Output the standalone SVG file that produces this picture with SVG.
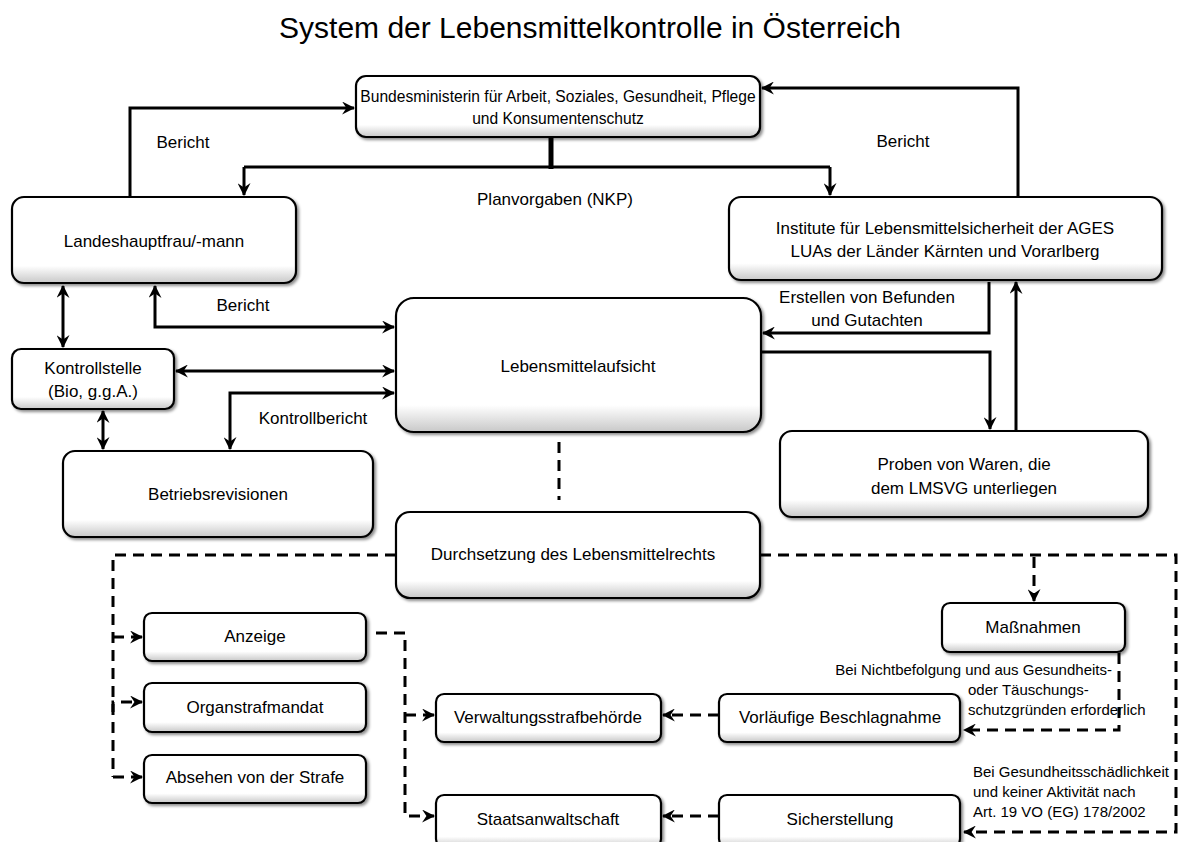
<svg xmlns="http://www.w3.org/2000/svg" width="1180" height="842" viewBox="0 0 1180 842">
<defs>
<linearGradient id="g" x1="0" y1="0" x2="0" y2="1">
<stop offset="0" stop-color="#ffffff"/>
<stop offset="0.8" stop-color="#ffffff"/>
<stop offset="1" stop-color="#c8c8c8"/>
</linearGradient>
<filter id="sh" x="-5%" y="-10%" width="115%" height="130%">
<feDropShadow dx="2" dy="2" stdDeviation="1.5" flood-color="#000" flood-opacity="0.45"/>
</filter>
<marker id="a" viewBox="0 0 12 12" refX="11" refY="6" markerWidth="13" markerHeight="13" markerUnits="userSpaceOnUse" orient="auto-start-reverse">
<path d="M0,0 L12,6 L0,12 L4,6 z" fill="#000"/>
</marker>
</defs>
<style>
.box{fill:url(#g);stroke:#000;stroke-width:2.2;filter:url(#sh)}
text{font-family:"Liberation Sans",Arial,sans-serif;font-size:17px;fill:#000}
.c{text-anchor:middle}
.s{font-size:15px}
.ln{fill:none;stroke:#000;stroke-width:3}
.d{fill:none;stroke:#000;stroke-width:3;stroke-dasharray:11,7}
</style>
<rect width="1180" height="842" fill="#fff"/>
<text x="590" y="38" class="c" style="font-size:30px">System der Lebensmittelkontrolle in Österreich</text>

<g id="connectors">
<path class="ln" d="M130,197 V108 H354" marker-end="url(#a)"/>
<path class="ln" d="M1018,197 V88 H762" marker-end="url(#a)"/>
<path fill="none" stroke="#000" stroke-width="5" d="M551,138 V169"/>
<path class="ln" d="M244,167 H830"/>
<path class="ln" d="M244,167 V195" marker-end="url(#a)"/>
<path class="ln" d="M830,167 V195" marker-end="url(#a)"/>
<path class="ln" d="M63,286 V347" marker-start="url(#a)" marker-end="url(#a)"/>
<path class="ln" d="M394,327 H155 V286" marker-start="url(#a)" marker-end="url(#a)"/>
<path class="ln" d="M176,371 H394" marker-start="url(#a)" marker-end="url(#a)"/>
<path class="ln" d="M394,393 H230 V449" marker-start="url(#a)" marker-end="url(#a)"/>
<path class="ln" d="M103,411 V449" marker-start="url(#a)" marker-end="url(#a)"/>
<path class="ln" d="M989,282 V333 H763" marker-end="url(#a)"/>
<path class="ln" d="M762,352 H990 V429" marker-end="url(#a)"/>
<path class="ln" d="M1016,430 V282" marker-end="url(#a)"/>
<path class="d" d="M559,442 V500"/>
<path class="d" d="M396,555 H113 V777"/>
<path class="d" d="M113,637 H142" stroke-dasharray="none" marker-end="url(#a)"/>
<path class="d" d="M113,712 V702 H142" stroke-dasharray="none" marker-end="url(#a)"/>
<path class="d" d="M113,777 H142" stroke-dasharray="none" marker-end="url(#a)"/>
<path class="d" d="M760,555 H1176 V832 H964" marker-end="url(#a)"/>
<path class="d" d="M1034,557 V601" marker-end="url(#a)"/>
<path class="d" d="M1119,653 V730 H964" marker-end="url(#a)"/>
<path class="d" d="M719,715 H663" marker-end="url(#a)"/>
<path class="d" d="M719,816 H663" marker-end="url(#a)"/>
<path class="d" d="M376,633 H405 V816 H434" marker-end="url(#a)"/>
<path class="d" d="M405,715 H434" stroke-dasharray="none" marker-end="url(#a)"/>
</g>

<g id="labels">
<text x="183" y="148" class="c">Bericht</text>
<text x="903" y="147" class="c">Bericht</text>
<text x="555" y="205" class="c">Planvorgaben (NKP)</text>
<text x="243" y="311" class="c">Bericht</text>
<text x="313" y="424" class="c">Kontrollbericht</text>
<text x="867" y="303" class="c">Erstellen von Befunden</text>
<text x="867" y="326" class="c">und Gutachten</text>
<text x="1112" y="675" class="s" text-anchor="end">Bei Nichtbefolgung und aus Gesundheits-</text>
<text x="968" y="695" class="s">oder Täuschungs-</text>
<text x="968" y="715" class="s">schutzgründen erforderlich</text>
<text x="973" y="777" class="s">Bei Gesundheitsschädlichkeit</text>
<text x="973" y="797" class="s">und keiner Aktivität nach</text>
<text x="973" y="817" class="s">Art. 19 VO (EG) 178/2002</text>
</g>

<g id="n-bm"><rect class="box" x="356" y="76" width="404" height="61" rx="10"/>
<text x="558" y="102" class="c" style="font-size:15.6px">Bundesministerin für Arbeit, Soziales, Gesundheit, Pflege</text>
<text x="558" y="124" class="c" style="font-size:15.6px">und Konsumentenschutz</text></g>
<g id="n-lh"><rect class="box" x="12" y="197" width="284" height="86" rx="12"/>
<text x="154" y="247" class="c">Landeshauptfrau/-mann</text></g>
<g id="n-inst"><rect class="box" x="729" y="197" width="433" height="83" rx="12"/>
<text x="945" y="234" class="c">Institute für Lebensmittelsicherheit der AGES</text>
<text x="945" y="257" class="c">LUAs der Länder Kärnten und Vorarlberg</text></g>
<g id="n-lma"><rect class="box" x="396" y="298" width="365" height="134" rx="18"/>
<text x="578" y="372" class="c">Lebensmittelaufsicht</text></g>
<g id="n-ks"><rect class="box" x="12" y="349" width="162" height="60" rx="9"/>
<text x="93" y="374" class="c">Kontrollstelle</text>
<text x="93" y="397" class="c">(Bio, g.g.A.)</text></g>
<g id="n-br"><rect class="box" x="63" y="451" width="310" height="86" rx="12"/>
<text x="218" y="500" class="c">Betriebsrevisionen</text></g>
<g id="n-pr"><rect class="box" x="780" y="431" width="368" height="86" rx="12"/>
<text x="964" y="470" class="c">Proben von Waren, die</text>
<text x="964" y="494" class="c">dem LMSVG unterliegen</text></g>
<g id="n-ds"><rect class="box" x="396" y="512" width="364" height="86" rx="14"/>
<text x="573" y="560" class="c">Durchsetzung des Lebensmittelrechts</text></g>
<g id="n-an"><rect class="box" x="144" y="613" width="222" height="48" rx="8"/>
<text x="255" y="642" class="c">Anzeige</text></g>
<g id="n-os"><rect class="box" x="144" y="683" width="222" height="49" rx="8"/>
<text x="255" y="713" class="c">Organstrafmandat</text></g>
<g id="n-ab"><rect class="box" x="144" y="755" width="222" height="48" rx="8"/>
<text x="255" y="783" class="c">Absehen von der Strafe</text></g>
<g id="n-mn"><rect class="box" x="942" y="603" width="183" height="49" rx="8"/>
<text x="1033" y="633" class="c">Maßnahmen</text></g>
<g id="n-vs"><rect class="box" x="436" y="694" width="225" height="48" rx="8"/>
<text x="548" y="723" class="c">Verwaltungsstrafbehörde</text></g>
<g id="n-vb"><rect class="box" x="719" y="694" width="241" height="48" rx="8"/>
<text x="840" y="723" class="c">Vorläufige Beschlagnahme</text></g>
<g id="n-sa"><rect class="box" x="436" y="795" width="225" height="52" rx="8"/>
<text x="548" y="825" class="c">Staatsanwaltschaft</text></g>
<g id="n-si"><rect class="box" x="719" y="795" width="241" height="52" rx="8"/>
<text x="840" y="825" class="c">Sicherstellung</text></g>
</svg>
